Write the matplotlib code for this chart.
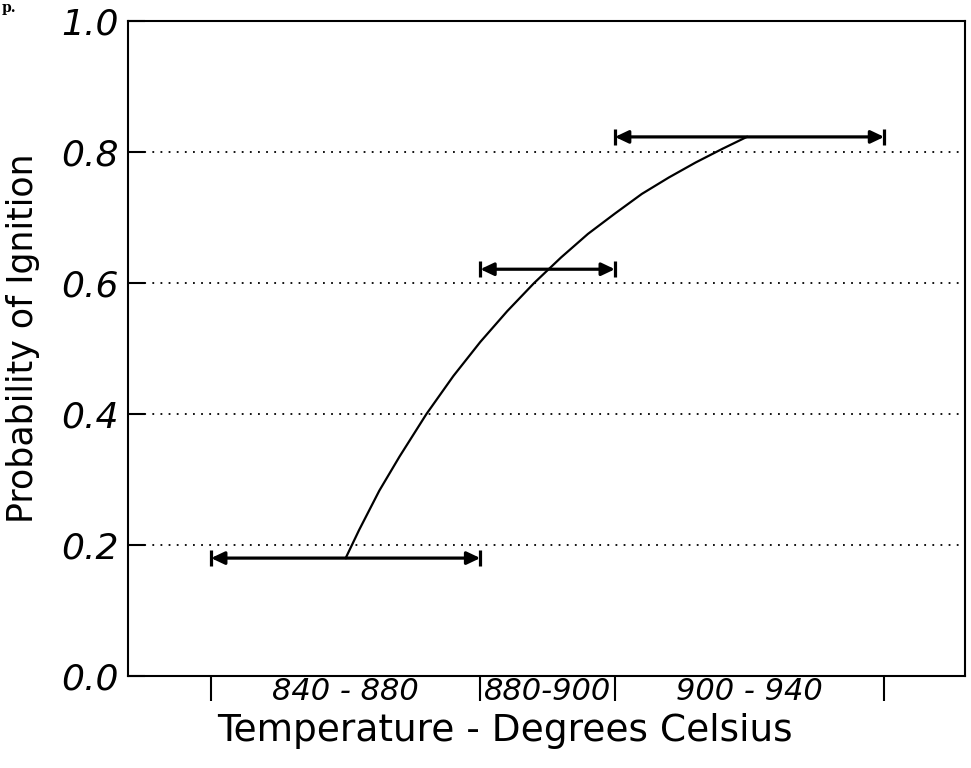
import matplotlib
matplotlib.use("Agg")
from matplotlib import pyplot as plt

# curve (temperature, probability)
curve_t = [860.0, 862, 865, 868, 872, 876, 880, 884, 888, 892,
           896, 900, 904, 908, 912, 916, 919.6]
curve_p = [0.180, 0.223, 0.283, 0.335, 0.400, 0.458, 0.510, 0.557, 0.600, 0.639,
           0.675, 0.706, 0.736, 0.761, 0.784, 0.805, 0.823]

# temperature ranges drawn as horizontal bars
bar_lo = [840, 880, 900]
bar_hi = [880, 900, 940]
bar_p = [0.18, 0.621, 0.823]

range_edges = [840, 880, 900, 940]
range_mid = [860, 890, 920]
range_labels = ["840 - 880", "880-900", "900 - 940"]

y_ticks = [0.0, 0.2, 0.4, 0.6, 0.8, 1.0]
y_labels = ["0.0", "0.2", "0.4", "0.6", "0.8", "1.0"]
grid_levels = [0.2, 0.4, 0.6, 0.8]

fig = plt.figure(figsize=(9.71, 7.68), dpi=100)
ax = fig.add_axes([0.1318, 0.1198, 0.8620, 0.8529])

for g in grid_levels:
    ax.axhline(g, color="black", lw=1.3, ls=(0, (1, 3.5)), zorder=1)

ax.plot(curve_t, curve_p, color="black", lw=1.6, zorder=3)

for lo, hi, p in zip(bar_lo, bar_hi, bar_p):
    ax.annotate("", xy=(hi, p), xytext=(lo, p),
                arrowprops=dict(arrowstyle="<|-|>,head_length=0.8,head_width=0.38",
                                color="black", lw=2.3, shrinkA=0, shrinkB=0),
                zorder=4)
    ax.plot([lo, hi], [p, p], ls="none", marker="|", ms=12, mew=2.3,
            color="black", zorder=4)

ax.set_xlim(827.66, 952.0)
ax.set_ylim(0, 1)

for s in ax.spines.values():
    s.set_linewidth(1.5)

ax.set_yticks(y_ticks)
ax.set_yticklabels(y_labels, fontsize=26, style="italic")
ax.tick_params(axis="y", direction="in", length=12, width=1.5, pad=7)

ax.set_xticks(range_edges)
ax.set_xticklabels([])
ax.tick_params(axis="x", which="major", direction="out", length=18, width=1.5)
ax.set_xticks(range_mid, minor=True)
ax.set_xticklabels(range_labels, minor=True, fontsize=22, style="italic")
ax.tick_params(axis="x", which="minor", length=0, pad=1)

ax.set_xlabel("Temperature - Degrees Celsius", fontsize=27)
ax.xaxis.set_label_coords(0.45, -0.056)
ax.set_ylabel("Probability of Ignition", fontsize=25)
ax.yaxis.set_label_coords(-0.105, 0.516)

fig.text(0.002, 0.999, "p.", fontsize=10, family="DejaVu Serif",
         weight="bold", va="top", ha="left")

fig.savefig("out.png", dpi=100)
